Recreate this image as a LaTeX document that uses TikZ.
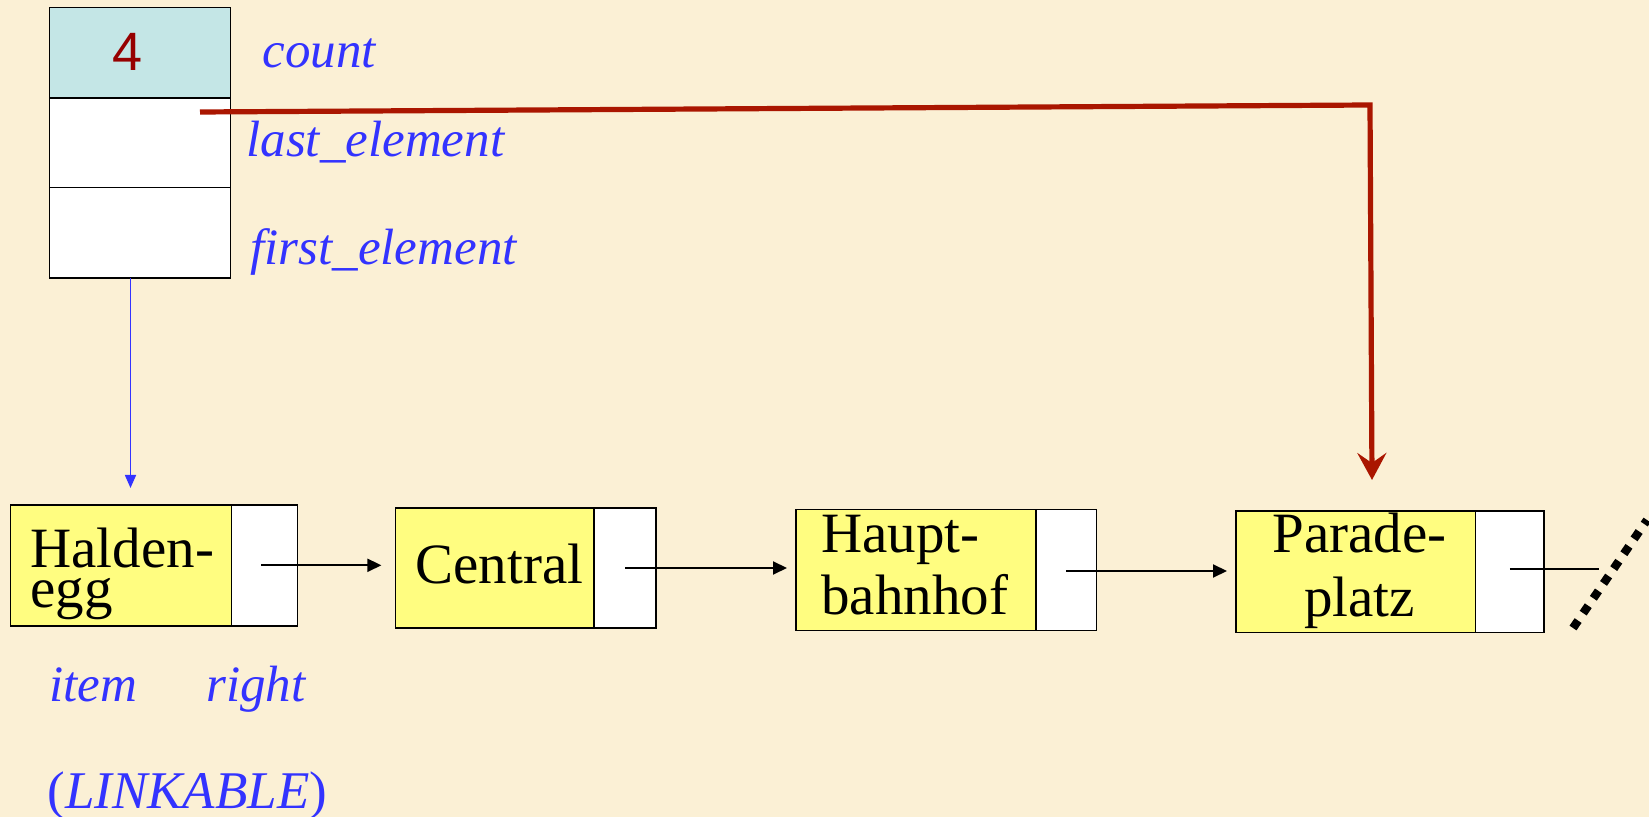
\documentclass[tikz,border=0pt]{standalone}
\usepackage{fontspec}
\setmainfont{Liberation Serif}
\newfontfamily\sansf{Liberation Sans}
\usetikzlibrary{arrows.meta}
\definecolor{bgc}{RGB}{251,240,213}
\definecolor{cyanc}{RGB}{196,230,230}
\definecolor{yelc}{RGB}{255,253,128}
\definecolor{bluec}{RGB}{51,51,255}
\definecolor{redc}{RGB}{170,22,0}
\definecolor{fourc}{RGB}{150,0,0}
\tikzset{
  cell/.style={draw=black, line width=0.75pt, inner sep=0pt, outer sep=0pt},
  ybox/.style={cell, fill=yelc},
  wbox/.style={cell, fill=white},
  lbl/.style={inner sep=0pt, anchor=base west, text=bluec, font=\fontsize{25.5}{30}\selectfont\itshape},
  btxt/.style={inner sep=0pt, anchor=base west, text=black, font=\fontsize{28.5}{30}\selectfont},
  blk/.style={line width=1pt, -{Triangle[length=7pt,width=6.5pt]}},
}
\begin{document}
\begin{tikzpicture}[x=0.5pt,y=-0.5pt]
\path[fill=bgc, use as bounding box] (0,0) rectangle (1649,817);

% list header object
\node[cell, fill=cyanc, minimum width=90.45pt, minimum height=45.3pt] (countbox) at (139.85,52.7) {};
\node[wbox, minimum width=90.45pt, minimum height=44.7pt] (lastbox) at (139.85,142.7) {};
\node[wbox, minimum width=90.45pt, minimum height=45.2pt] (firstbox) at (139.85,232.8) {};
\node[inner sep=0pt, text=fourc, font=\sansf\fontsize{27}{30}\selectfont] (four) at (127.5,52) {4};

\node[lbl] (lcount) at (262,68) {count};
\node[lbl] (llast) at (246,157) {last\_element};
\node[lbl] (lfirst) at (250,265) {first\_element};

% linkable cells
\node[ybox, minimum width=110.45pt, minimum height=60.5pt] (y1) at (120.95,565.3) {};
\node[wbox, minimum width=33.1pt, minimum height=60.5pt] (w1) at (264.5,565.3) {};
\node[ybox, minimum width=99.4pt, minimum height=60pt] (y2) at (494.8,568) {};
\node[wbox, minimum width=31pt, minimum height=60pt] (w2) at (625.2,568) {};
\node[ybox, minimum width=120pt, minimum height=60.5pt] (y3) at (916,570) {};
\node[wbox, minimum width=30.25pt, minimum height=60.5pt] (w3) at (1066.25,570) {};
\node[ybox, minimum width=119.75pt, minimum height=60.75pt] (y4) at (1355.75,571.75) {};
\node[wbox, minimum width=34.25pt, minimum height=60.75pt] (w4) at (1509.75,571.75) {};

\node[btxt, align=left, font=\fontsize{28.5}{20.5}\selectfont] (t1) at (30,608) {Halden-\\egg};
\node[btxt] (t2) at (415,584) {Central};
\node[btxt, align=left, font=\fontsize{28.5}{31.5}\selectfont] (t3) at (821,615) {Haupt-\\bahnhof};
\node[btxt, align=center, font=\fontsize{28.5}{32}\selectfont] (t4) at (1272,617) {Parade-\\platz};

\node[lbl] (litem) at (49,701) {item};
\node[lbl] (lright) at (206,701) {right};
\node[lbl, font=\fontsize{26.5}{30}\selectfont] (llink) at (47,808) {(\textit{LINKABLE})};

% connectors
\draw[blk] ([xshift=-1.75pt]w1.center) -- ([xshift=-7pt]w1.center -| y2.west);
\draw[blk] (w2.center) -- ([xshift=-4.5pt]w2.center -| y3.west);
\draw[blk] ([yshift=-0.5pt]w3.center) -- ([xshift=-4.5pt,yshift=-0.5pt]w3.center -| y4.west);
\coordinate (voidend) at (1599,569);
\draw[line width=1.2pt] (w4.center |- voidend) -- (voidend);
\coordinate (vA) at (1573,628);
\coordinate (vB) at (1647,520);
\draw[line width=4.2pt, dash pattern=on 4.5pt off 4.5pt] (vA) -- (vB);

\coordinate (bstart) at (130.5,278);
\coordinate (bend) at (130.5,488);
\draw[bluec, line width=0.8pt, -{Triangle[length=6.5pt,width=5.5pt]}] (bstart) -- (bend);

\coordinate (rstart) at (200,112);
\coordinate (rcorner) at (1370,105);
\coordinate (rend) at (1372,480);
\draw[redc, line width=2.6pt, line join=miter, -{Stealth[length=13.5pt,width=14.5pt,inset=5pt]}] (rstart) -- (rcorner) -- (rend);
\end{tikzpicture}
\end{document}
